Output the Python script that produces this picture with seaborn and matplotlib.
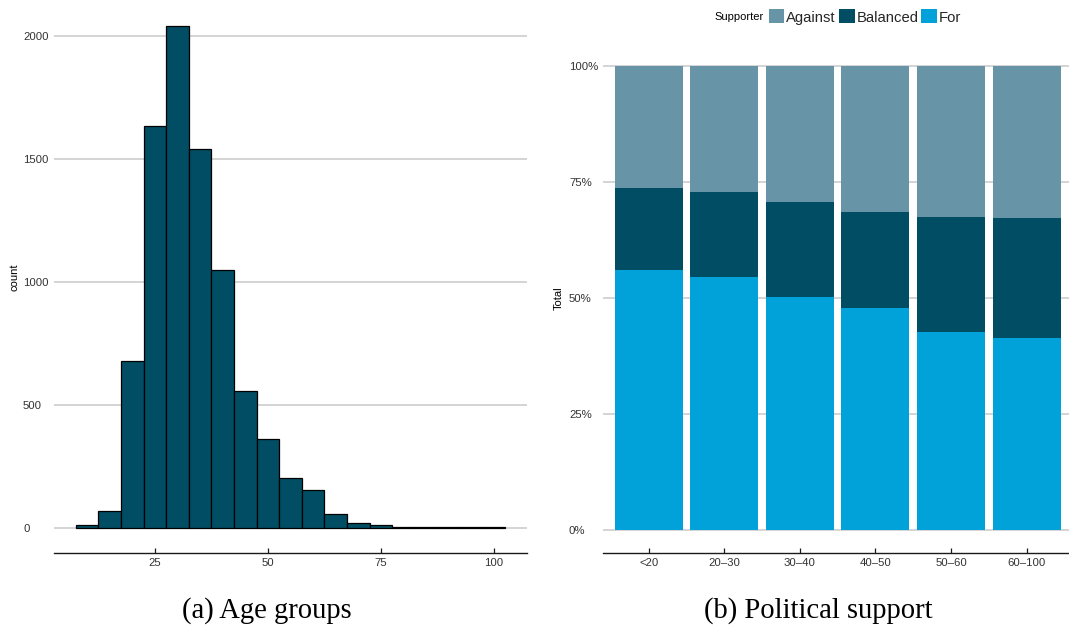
import matplotlib
matplotlib.use("Agg")
import matplotlib.pyplot as plt
import seaborn as sns
import pandas as pd
from matplotlib.patches import Patch
from matplotlib.ticker import FuncFormatter

# Respondent ages, counted in 5-year bins centred on these ages
age_centers = [10, 15, 20, 25, 30, 35, 40, 45, 50, 55, 60, 65, 70, 75, 80, 85, 90, 95, 100]
age_counts = [12, 69, 680, 1635, 2042, 1541, 1050, 557, 362, 203, 152, 55, 19, 11, 3, 2, 2, 1, 2]

# Political support by age group (percent of respondents)
age_groups = ["<20", "20–30", "30–40", "40–50", "50–60", "60–100"]
share_for = [56.0, 54.5, 50.2, 47.8, 42.7, 41.4]
share_balanced = [17.7, 18.3, 20.5, 20.7, 24.8, 25.8]
share_against = [26.3, 27.2, 29.3, 31.5, 32.5, 32.8]

supporters = ["Against", "Balanced", "For"]
palette = {"Against": "#6794a7", "Balanced": "#014d64", "For": "#01a2d9"}

sns.set_theme(style="white")
plt.rcParams["font.family"] = ["Liberation Sans", "DejaVu Sans"]

TICK_COLOR = "#333333"
GRID_COLOR = "#d4d4d4"

W, H = 1069, 630
fig = plt.figure(figsize=(W / 100, H / 100), dpi=100)

def px_axes(left, top, right, bottom):
    return fig.add_axes([left / W, 1 - bottom / H, (right - left) / W, (bottom - top) / H])

ax1 = px_axes(54.3, 1.0, 526.7, 552.8)
ax2 = px_axes(603.3, 42.8, 1072.0, 553.2)

# ---- (a) age histogram ----
sns.histplot(x=age_centers, weights=age_counts, binwidth=5, binrange=(7.5, 102.5),
             color=palette["Balanced"], edgecolor="black", linewidth=0.9,
             alpha=1, ax=ax1)
ax1.set_xlim(2.75, 107.25)
ax1.set_ylim(-102.1, 2144.1)
ax1.set_xticks([25, 50, 75, 100])
ax1.set_yticks([0, 500, 1000, 1500, 2000])
ax1.set_xlabel("")
ax1.set_ylabel("count", fontsize=8, color="black")
ax1.yaxis.set_label_coords(-0.0747, 0.5)

# ---- (b) stacked support shares ----
df = pd.DataFrame({"group": age_groups, "For": share_for,
                   "Balanced": share_balanced, "Against": share_against})
df["top_against"] = (df["For"] + df["Balanced"] + df["Against"]) / 100
df["top_balanced"] = (df["For"] + df["Balanced"]) / 100
df["top_for"] = df["For"] / 100

for col, name in [("top_against", "Against"), ("top_balanced", "Balanced"), ("top_for", "For")]:
    sns.barplot(data=df, x="group", y=col, color=palette[name], saturation=1,
                width=0.9, linewidth=0, ax=ax2)
ax2.set_xlim(-0.6, 5.6)
ax2.set_ylim(-0.05, 1.05)
ax2.set_yticks([0, 0.25, 0.5, 0.75, 1.0])
ax2.yaxis.set_major_formatter(FuncFormatter(lambda v, _: f"{v * 100:.0f}%"))
ax2.set_xlabel("")
ax2.set_ylabel("Total", fontsize=8, color="black")
ax2.yaxis.set_label_coords(-0.0838, 0.5)

# ---- shared styling ----
for ax, pad in [(ax1, 22.5), (ax2, 24.7)]:
    ax.set_axisbelow(True)
    ax.yaxis.grid(True, color=GRID_COLOR, linewidth=1.4)
    ax.xaxis.grid(False)
    for side in ["left", "right", "top"]:
        ax.spines[side].set_visible(False)
    ax.spines["bottom"].set_color("#1a1a1a")
    ax.spines["bottom"].set_linewidth(1.0)
    ax.tick_params(axis="x", direction="in", length=3.8, width=0.9, color="#1a1a1a",
                   labelsize=8.2, labelcolor=TICK_COLOR, pad=3.5, bottom=True)
    ax.tick_params(axis="y", length=0, labelsize=8.2, labelcolor=TICK_COLOR, pad=pad, left=True)
    for lab in ax.get_yticklabels():
        lab.set_horizontalalignment("left")
    ax.set_facecolor("white")

# ---- legend across the top ----
fig.text(714 / W, 1 - 17 / H, "Supporter", fontsize=8, color="black", ha="left", va="center")
handles = [Patch(facecolor=palette[s], edgecolor="none") for s in supporters]
fig.legend(handles, supporters, loc="center left", bbox_to_anchor=(768.5 / W, 1 - 17 / H),
           ncol=3, frameon=False, fontsize=10.7, handlelength=1.07, handleheight=1.07,
           handletextpad=0.12, columnspacing=0.2, borderpad=0, borderaxespad=0)

# ---- sub-figure captions ----
fig.text(267 / W, 1 - 611 / H, "(a) Age groups", ha="center", va="center",
         family="Liberation Serif", fontsize=20.6, color="black")
fig.text(818 / W, 1 - 611 / H, "(b) Political support", ha="center", va="center",
         family="Liberation Serif", fontsize=20.6, color="black")

fig.savefig("out.png", dpi=100, facecolor="white")
